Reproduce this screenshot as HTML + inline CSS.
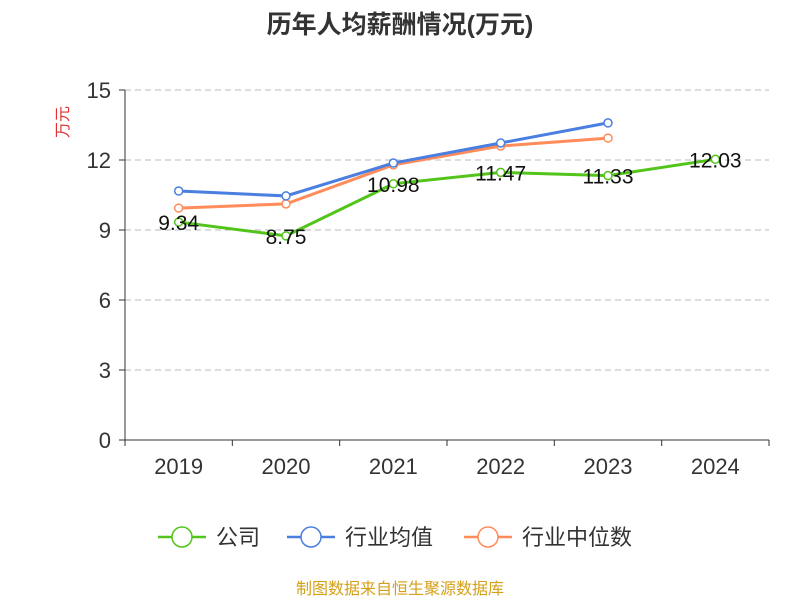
<!DOCTYPE html>
<html><head><meta charset="utf-8"><style>
body{margin:0;background:#fff;}
svg text{font-family:"Liberation Sans","Noto Sans CJK SC",sans-serif;}
</style></head><body>
<svg width="800" height="600" xmlns="http://www.w3.org/2000/svg" id="chart">
<text x="400" y="33" text-anchor="middle" font-size="25" font-weight="bold" fill="#333">历年人均薪酬情况(万元)</text>
<text x="68" y="122" font-size="16" fill="#e03030" transform="rotate(-90 68 122)" text-anchor="middle">万元</text>
<g id="grid"></g><g id="axes"></g><g id="series"></g>
<g>
<g><line x1="158" y1="537" x2="206" y2="537" stroke="#52c41a" stroke-width="2.5"/><circle cx="182" cy="537" r="10" fill="#fff" stroke="#52c41a" stroke-width="1.5"/><text x="216" y="545" font-size="22" fill="#333">公司</text></g>
<g><line x1="287" y1="537" x2="335" y2="537" stroke="#4a7ee0" stroke-width="2.5"/><circle cx="311" cy="537" r="10" fill="#fff" stroke="#4a7ee0" stroke-width="1.5"/><text x="345" y="545" font-size="22" fill="#333">行业均值</text></g>
<g><line x1="464" y1="537" x2="512" y2="537" stroke="#ff8c5a" stroke-width="2.5"/><circle cx="488" cy="537" r="10" fill="#fff" stroke="#ff8c5a" stroke-width="1.5"/><text x="522" y="545" font-size="22" fill="#333">行业中位数</text></g>
</g>
<text x="400" y="594" text-anchor="middle" font-size="16" fill="#d4a017">制图数据来自恒生聚源数据库</text>
</svg>
<script>
const categories=["2019","2020","2021","2022","2023","2024"];
const yTicks=[0,3,6,9,12,15];
const company=[9.34,8.75,10.98,11.47,11.33,12.03];
const industryAvg=[10.67,10.46,11.87,12.73,13.59,null];
const industryMedian=[9.94,10.12,11.79,12.6,12.94,null];
const NS="http://www.w3.org/2000/svg";
const x0=125,x1=769,yTop=90,yBot=440,yMax=15;
const band=(x1-x0)/categories.length;
const xs=i=>x0+band*(i+0.5);
const ys=v=>yBot-(v/yMax)*(yBot-yTop);
function mk(tag,attrs,parent,txt){const e=document.createElementNS(NS,tag);for(const k in attrs)e.setAttribute(k,attrs[k]);if(txt!==undefined)e.textContent=txt;document.getElementById(parent).appendChild(e);return e;}
yTicks.forEach(t=>{
 if(t>0){const g=mk('line',{x1:x0,x2:x1,y1:ys(t),y2:ys(t),stroke:'#bbb','stroke-dasharray':'6,4'},'grid');
 
 }
 const tk=mk('line',{x1:x0-6,x2:x0,y1:ys(t),y2:ys(t),stroke:'#333'},'axes');
 
 
 const l=mk('text',{x:x0-14,y:ys(t)+8,'text-anchor':'end','font-size':22,fill:'#333'},'axes',t);
 
 
});
const ya=mk('line',{x1:x0,x2:x0,y1:yTop,y2:yBot,stroke:'#333'},'axes');


const xa=mk('line',{x1:x0,x2:x1,y1:yBot,y2:yBot,stroke:'#333'},'axes');


for(let i=0;i<=categories.length;i++){const t=mk('line',{x1:x0+band*i,x2:x0+band*i,y1:yBot,y2:yBot+6,stroke:'#333'},'axes');

}
categories.forEach((c,i)=>{const l=mk('text',{x:xs(i),y:474,'text-anchor':'middle','font-size':22,fill:'#333'},'axes',c);

});
function series(data,color,name,labels){
 const pts=[];data.forEach((v,i)=>{if(v!=null)pts.push([xs(i),ys(v),v]);});
 const p=mk('polyline',{points:pts.map(p=>p[0]+','+p[1]).join(' '),fill:'none',stroke:color,'stroke-width':3},'series');
 
 
 pts.forEach(q=>{const c=mk('circle',{cx:q[0],cy:q[1],r:4,fill:'#fff',stroke:color,'stroke-width':1.5},'series');
 
 
 if(labels){const t=mk('text',{x:q[0],y:q[1]+8,'text-anchor':'middle','font-size':21,fill:'#111'},'series',q[2].toFixed(2));
 
 }});
}
series(industryMedian,'#ff8c5a','industry-median',false);
series(industryAvg,'#4a7ee0','industry-avg',false);
series(company,'#52c41a','company',true);
</script>
</body></html>
